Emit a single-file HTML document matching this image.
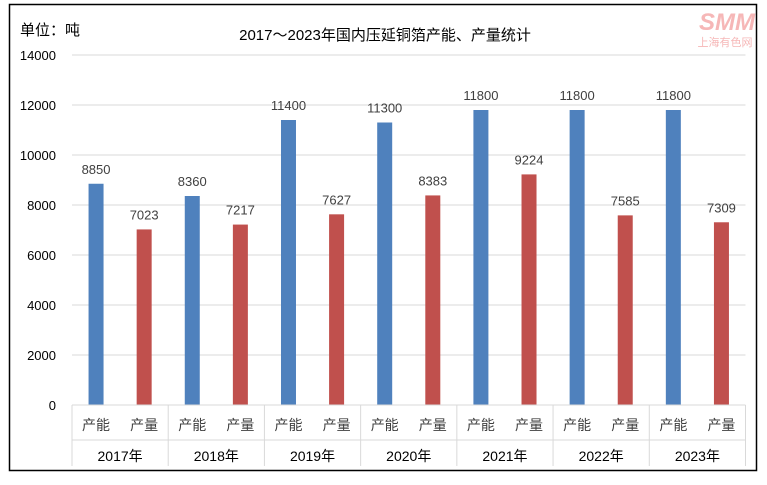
<!DOCTYPE html>
<html><head><meta charset="utf-8"><style>
body{margin:0;background:#fff;}
svg text{font-family:"Liberation Sans","Noto Sans CJK SC",sans-serif;}
</style></head><body>
<svg id="chart" width="767" height="480" xmlns="http://www.w3.org/2000/svg">
<rect x="9.5" y="4.5" width="747" height="466" fill="#fff" stroke="#000" stroke-width="1.5"/>
<text x="20" y="35" font-size="15" fill="#000">单位：吨</text>
<text x="385" y="40" font-size="15" text-anchor="middle" fill="#000">2017～2023年国内压延铜箔产能、产量统计</text>
<g>
<text x="727" y="30" font-size="24" font-weight="bold" font-style="italic" text-anchor="middle" fill="#f6b7b7">SMM</text>
<text x="725" y="46" font-size="11" text-anchor="middle" fill="#f6b7b7">上海有色网</text>
</g>
<g id="grid"></g><g id="bars"></g><g id="xaxis"></g>
</svg>
<script>
const years = ["2017年","2018年","2019年","2020年","2021年","2022年","2023年"];
const seriesNames = ["产能","产量"];
const capacity = [8850,8360,11400,11300,11800,11800,11800];
const output = [7023,7217,7627,8383,9224,7585,7309];
const yTicks = [0,2000,4000,6000,8000,10000,12000,14000];
const colors = ["#4f81bd","#c0504d"];
const NS="http://www.w3.org/2000/svg";
const x0=72,x1=745.5,y0=405,yTop=55,yMax=14000;
const gw=(x1-x0)/years.length;
function yS(v){return y0-(v/yMax)*(y0-yTop);}
function mk(tag,attrs,parent,txt){const e=document.createElementNS(NS,tag);for(const k in attrs)e.setAttribute(k,attrs[k]);if(txt!==undefined)e.textContent=txt;parent.appendChild(e);return e;}
const grid=document.getElementById('grid'),bars=document.getElementById('bars'),xa=document.getElementById('xaxis');
yTicks.forEach(t=>{
  if(t>0){const l=mk('line',{x1:x0,x2:x1,y1:yS(t),y2:yS(t),stroke:'#d9d9d9','stroke-width':1},grid);
  
  }
  const tx=mk('text',{x:56,y:yS(t)+5,'font-size':13,'text-anchor':'end',fill:'#000'},grid,String(t));
  
  
});
const ax=mk('line',{x1:x0,x2:x1,y1:y0,y2:y0,stroke:'#d9d9d9','stroke-width':1},xa);


for(let i=0;i<=years.length;i++){
  const x=x0+i*gw;
  const l=mk('line',{x1:x,x2:x,y1:y0,y2:466,stroke:'#d9d9d9','stroke-width':1},xa);
  
  
}
const lw=mk('line',{x1:x0,x2:x1,y1:440,y2:440,stroke:'#d9d9d9','stroke-width':1},xa);


const bw=15;
years.forEach((yr,i)=>{
  const gx=x0+i*gw;
  [capacity[i],output[i]].forEach((v,j)=>{
    const cx=gx+gw*(j===0?0.25:0.75);
    const r=mk('rect',{x:cx-bw/2,y:yS(v),width:bw,height:y0-yS(v),fill:colors[j]},bars);
    
    
    const t=mk('text',{x:cx,y:yS(v)-10,'font-size':13,'text-anchor':'middle',fill:'#404040'},bars,String(v));
    
    
    const s=mk('text',{x:cx,y:430,'font-size':14,'text-anchor':'middle',fill:'#404040'},xa,seriesNames[j]);
    
    
  });
  const y=mk('text',{x:gx+gw/2,y:461,'font-size':14,'text-anchor':'middle',fill:'#000'},xa,yr);
  
  
});
</script>
</body></html>
